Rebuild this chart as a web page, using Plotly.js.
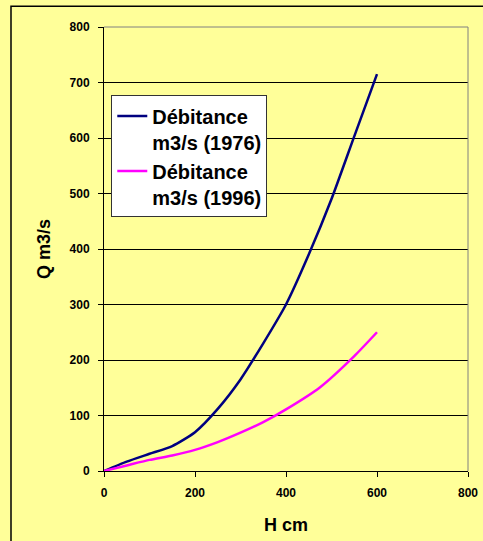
<!DOCTYPE html>
<html>
<head>
<meta charset="utf-8">
<script src="https://cdn.plot.ly/plotly-3.0.1.min.js"></script>
<style>html,body{margin:0;padding:0;background:#FFFF99;}</style>
</head>
<body>
<div id="chart" style="width:483px;height:541px;"></div>
<script>
const H1976 = [0, 50, 100, 150, 200, 250, 300, 350, 400, 450, 500, 550, 600];
const Q1976 = [0, 17, 31, 45, 70, 112, 165, 230, 300, 390, 490, 603, 715];
const H1996 = [0, 50, 100, 150, 200, 250, 300, 350, 400, 475, 550, 600];
const Q1996 = [0, 10, 20, 28, 38, 52, 69, 88, 111, 151, 207, 250];
const name1976 = 'Débitance<br>m3/s (1976)';
const name1996 = 'Débitance<br>m3/s (1996)';
const xTitle = 'H cm';
const yTitle = 'Q m3/s';

const font = {family: 'Liberation Sans, Arial, sans-serif', color: '#000', weight: 'bold'};

const traces = [
  {x: H1976, y: Q1976, name: name1976, mode: 'lines', type: 'scatter',
   line: {color: '#000080', width: 2.5, shape: 'spline', smoothing: 0.6}},
  {x: H1996, y: Q1996, name: name1996, mode: 'lines', type: 'scatter',
   line: {color: '#FF00FF', width: 2.5, shape: 'spline', smoothing: 0.6}}
];

const layout = {
  width: 483, height: 541,
  margin: {l: 104, r: 15, t: 27, b: 70, pad: 0},
  paper_bgcolor: '#FFFF99',
  plot_bgcolor: '#FFFF99',
  font: Object.assign({}, font, {size: 12}),
  showlegend: true,
  legend: {
    x: 0.02, y: 0.846, xanchor: 'left', yanchor: 'top',
    bgcolor: '#FFFFFF', bordercolor: '#333333', borderwidth: 1,
    font: Object.assign({}, font, {size: 20}),
    valign: 'top', itemwidth: 30
  },
  xaxis: {
    range: [0, 800], dtick: 200, tick0: 0,
    showgrid: false, zeroline: false,
    showline: true, linecolor: '#000', linewidth: 1,
    ticks: 'outside', ticklen: 5, tickcolor: '#000',
    tickfont: Object.assign({}, font, {size: 12}),
    ticklabelstandoff: 6,
    title: {text: xTitle, font: Object.assign({}, font, {size: 18}), standoff: 18}
  },
  yaxis: {
    range: [0, 800], dtick: 100, tick0: 0,
    showgrid: true, gridcolor: '#000', gridwidth: 1,
    zeroline: false,
    showline: true, linecolor: '#000', linewidth: 1,
    ticks: 'outside', ticklen: 5, tickcolor: '#000',
    tickfont: Object.assign({}, font, {size: 12}),
    ticklabelstandoff: 6,
    title: {text: yTitle, font: Object.assign({}, font, {size: 18}), standoff: 14}
  },
  shapes: [
    {type: 'line', xref: 'paper', yref: 'paper', x0: 0, x1: 1, y0: 1, y1: 1,
     line: {color: '#808080', width: 1}},
    {type: 'line', xref: 'paper', yref: 'paper', x0: 1, x1: 1, y0: 0, y1: 1,
     line: {color: '#808080', width: 1}},
    {type: 'rect', xref: 'paper', yref: 'paper', x0: -0.2555, x1: 1.2, y0: -0.3, y1: 1.047,
     line: {color: '#000', width: 1.5}, layer: 'below'}
  ]
};

Plotly.newPlot('chart', traces, layout, {displayModeBar: false, staticPlot: true});
</script>
</body>
</html>
